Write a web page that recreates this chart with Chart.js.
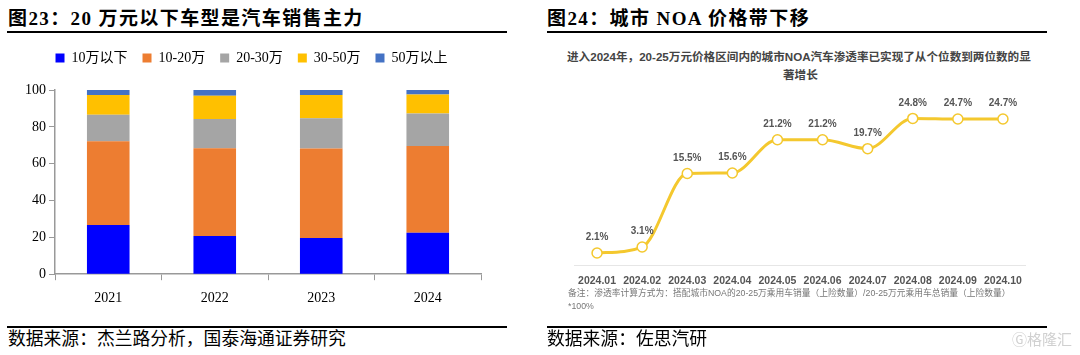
<!DOCTYPE html>
<html><head><meta charset="utf-8">
<script src="https://cdn.jsdelivr.net/npm/chart.js@4/dist/chart.umd.min.js"></script>
<style>
html,body{margin:0;padding:0;background:#fff;}
#root{position:relative;width:1080px;height:355px;overflow:hidden;background:#fff;}
.abs{position:absolute;white-space:nowrap;}
.ttl{font-family:"Liberation Serif","Noto Sans CJK SC",serif;font-weight:bold;font-size:19px;line-height:19px;color:#000;letter-spacing:1.4px;}
.src{font-family:"Liberation Serif","Noto Sans CJK SC",serif;font-size:17.8px;line-height:18px;color:#000;}
.rule{position:absolute;height:1.5px;background:#000;}
.inner{font-family:"Liberation Sans","Noto Sans CJK SC",sans-serif;font-weight:bold;font-size:11.6px;line-height:12px;color:#444;}
.note{font-family:"Liberation Sans","Noto Sans CJK SC",sans-serif;font-size:8.75px;line-height:9px;color:#777;}
</style></head>
<body><div id="root">
<div class="abs ttl" style="left:8px;top:8.5px;">图23：20 万元以下车型是汽车销售主力</div>
<div class="rule" style="left:7px;top:31px;width:500px;"></div>
<div class="abs ttl" style="left:547px;top:8.5px;">图24：城市 NOA 价格带下移</div>
<div class="rule" style="left:547px;top:31px;width:500px;"></div>

<div class="abs" style="left:0;top:36px;width:540px;height:282px;"><canvas id="c1" width="540" height="282"></canvas></div>

<div class="abs inner" style="left:567px;top:51px;">进入2024年，20-25万元价格区间内的城市NOA汽车渗透率已实现了从个位数到两位数的显</div>
<div class="abs inner" style="left:783px;top:69px;">著增长</div>
<div class="abs" style="left:568px;top:80px;width:464px;height:216px;"><canvas id="c2" width="464" height="216"></canvas></div>
<div class="abs note" style="left:568px;top:289px;">备注：渗透率计算方式为：搭配城市NOA的20-25万乘用车销量（上险数量）/20-25万元乘用车总销量（上险数量）</div>
<div class="abs note" style="left:568px;top:302px;">*100%</div>

<div class="rule" style="left:7px;top:326px;width:500px;"></div>
<div class="abs src" style="left:8px;top:330px;">数据来源：杰兰路分析，国泰海通证券研究</div>
<div class="rule" style="left:547px;top:326px;width:500px;"></div>
<div class="abs src" style="left:547px;top:330px;">数据来源：佐思汽研</div>
<div class="abs" style="left:1012px;top:331px;font-family:'Noto Sans CJK SC',sans-serif;font-size:15px;line-height:16px;color:#d0d0d0;">Ⓖ格隆汇</div>
</div>
<script>
// ---- Left chart data ----
const years = ['2021','2022','2023','2024'];
const seriesNames = ['10万以下','10-20万','20-30万','30-50万','50万以上'];
const below10 = [26.7, 20.7, 19.6, 22.5];
const from10to20 = [45.5, 47.7, 48.6, 47.1];
const from20to30 = [14.3, 15.8, 16.5, 17.7];
const from30to50 = [10.8, 12.7, 12.6, 10.2];
const above50 = [2.7, 3.1, 2.7, 2.5];
const yTicksLeft = [0, 20, 40, 60, 80, 100];

// ---- Right chart data ----
const months = ['2024.01','2024.02','2024.03','2024.04','2024.05','2024.06','2024.07','2024.08','2024.09','2024.10'];
const noaRate = [2.1, 3.1, 15.5, 15.6, 21.2, 21.2, 19.7, 24.8, 24.7, 24.7];

const serif = '"Liberation Serif","Noto Sans CJK SC",serif';
const sans = '"Liberation Sans","Noto Sans CJK SC",sans-serif';
const colors = ['#0000FF','#ED7D31','#A5A5A5','#FFC000','#4472C4'];
const leftValues = [below10, from10to20, from20to30, from30to50, above50];

const legendGap = {
  id: 'legendGap',
  beforeInit(chart) {
    const fit = chart.legend.fit;
    chart.legend.fit = function() { fit.bind(chart.legend)(); this.height += 15; };
  }
};

new Chart(document.getElementById('c1'), {
  type: 'bar',
  data: {
    labels: years,
    datasets: leftValues.map((v,i)=>({label: seriesNames[i], data: v, backgroundColor: colors[i], borderWidth: 0, barPercentage: 0.4, categoryPercentage: 1.0}))
  },
  options: {
    responsive: false, animation: false,
    layout: {padding: {left: 22, right: 59, top: 0, bottom: 1}},
    plugins: {
      legend: {position: 'top', labels: {boxWidth: 9, boxHeight: 9, padding: 15, color: '#000', font: {family: serif, size: 14}}},
      tooltip: {enabled: false}
    },
    scales: {
      x: {stacked: true,
        grid: {display: true, drawOnChartArea: false, drawTicks: true, tickLength: 6, color: '#999'},
        border: {color: '#999', width: 1.5},
        ticks: {color: '#000', font: {family: serif, size: 14}, padding: 10}},
      y: {stacked: true, min: 0, max: 100,
        afterBuildTicks: (ax)=>{ ax.ticks = yTicksLeft.map(v=>({value: v})); },
        grid: {display: true, drawOnChartArea: false, drawTicks: true, tickLength: 6, color: '#999'},
        border: {color: '#999', width: 1.5},
        ticks: {color: '#000', font: {family: serif, size: 14}, padding: 3}}
    }
  },
  plugins: [legendGap]
});

const labelPlugin = {
  id: 'vlabels',
  afterDatasetsDraw(chart) {
    const ctx = chart.ctx;
    const meta = chart.getDatasetMeta(0);
    const ds = chart.data.datasets[0].data;
    ctx.save();
    ctx.font = 'bold 10px ' + sans;
    ctx.fillStyle = '#555';
    ctx.textAlign = 'center';
    ctx.textBaseline = 'middle';
    meta.data.forEach((pt, i) => { ctx.fillText(ds[i].toFixed(1) + '%', pt.x, pt.y - 15.6); });
    ctx.restore();
  }
};

new Chart(document.getElementById('c2'), {
  type: 'line',
  data: {labels: months, datasets: [{
    data: noaRate, borderColor: '#F4C82E', borderWidth: 3,
    cubicInterpolationMode: 'monotone',
    pointRadius: 5, pointBackgroundColor: '#fff', pointBorderColor: '#F4C82E', pointBorderWidth: 1.5,
    clip: false
  }]},
  options: {
    responsive: false, animation: false,
    layout: {padding: {left: 0, right: 0, top: 7.6, bottom: 0}},
    plugins: {legend: {display: false}, tooltip: {enabled: false}},
    scales: {
      x: {offset: true,
        grid: {display: false, drawTicks: false},
        border: {display: true, color: '#e6e6e6', width: 1},
        ticks: {color: '#555', font: {family: sans, size: 10.5, weight: 'bold'}, padding: 9, maxRotation: 0, autoSkip: false}},
      y: {display: false, min: 0, max: 30}
    }
  },
  plugins: [labelPlugin]
});
</script>
</body></html>
